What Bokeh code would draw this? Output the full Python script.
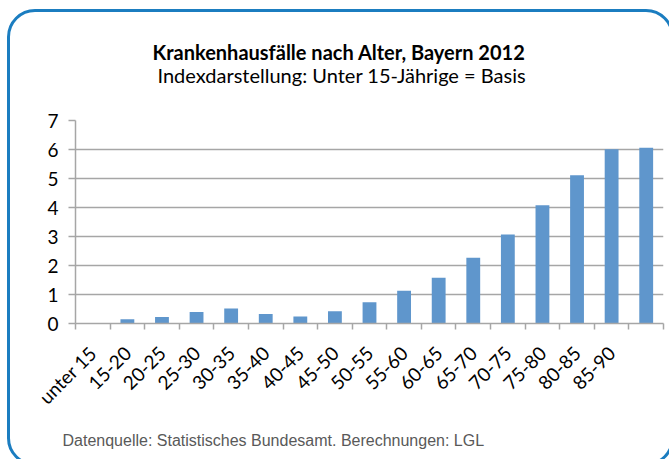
import math
from bokeh.plotting import figure
from bokeh.models import (Range1d, FixedTicker, ColumnDataSource, Title,
                          InlineStyleSheet)
from bokeh.embed import file_html
from bokeh.resources import INLINE

# ---- data ----
categories = ["unter 15", "15-20", "20-25", "25-30", "30-35", "35-40", "40-45",
              "45-50", "50-55", "55-60", "60-65", "65-70", "70-75", "75-80",
              "80-85", "85-90", ""]
values = [0.0, 0.15, 0.22, 0.40, 0.52, 0.33, 0.24, 0.42, 0.73, 1.13, 1.58,
          2.27, 3.07, 4.08, 5.11, 6.01, 6.06]
y_ticks = [0, 1, 2, 3, 4, 5, 6, 7]

title_text = "Krankenhausfälle nach Alter, Bayern 2012"
subtitle_text = "Indexdarstellung: Unter 15-Jährige = Basis"
source_text = "Datenquelle: Statistisches Bundesamt. Berechnungen: LGL"

xs = list(range(len(categories)))
src = ColumnDataSource(dict(x=xs, top=values))

W, H = 669, 459
FL, FR, FT, FB = 75, 663, 120, 323  # frame in canvas px

p = figure(width=W, height=H, output_backend="svg", toolbar_location=None,
           x_range=Range1d(-0.5, len(categories) - 0.5), y_range=Range1d(0, 7),
           min_border_left=FL, min_border_right=W - FR,
           min_border_top=FT, min_border_bottom=H - FB)
p.outline_line_color = None
p.background_fill_color = "white"
p.border_fill_color = "white"

p.vbar(x="x", top="top", width=0.4, source=src, fill_color="#5F96CC",
       line_color=None)

# y axis
p.yaxis.ticker = FixedTicker(ticks=y_ticks)
p.yaxis.axis_line_color = "#A6A6A6"
p.yaxis.axis_line_width = 1.5
p.yaxis.major_tick_line_color = "#A6A6A6"
p.yaxis.major_tick_line_width = 1.5
p.yaxis.major_tick_out = 7
p.yaxis.major_tick_in = 0
p.yaxis.minor_tick_line_color = None
p.yaxis.major_label_standoff = 10
p.yaxis.major_label_text_font = "Lato"
p.yaxis.major_label_text_font_size = "19px"
p.yaxis.major_label_text_color = "#000000"

p.ygrid.grid_line_color = "#A6A6A6"
p.ygrid.grid_line_width = 1.5
p.xgrid.grid_line_color = None

# x axis
p.xaxis.ticker = FixedTicker(ticks=xs, minor_ticks=[i - 0.5 for i in range(len(categories) + 1)])
p.xaxis.major_label_overrides = {i: c for i, c in enumerate(categories)}
p.xaxis.major_label_orientation = math.pi / 4
p.xaxis.axis_line_color = "#A6A6A6"
p.xaxis.axis_line_width = 1.5
p.xaxis.major_tick_line_color = None
p.xaxis.major_tick_out = 0
p.xaxis.major_tick_in = 0
p.xaxis.minor_tick_line_color = "#A6A6A6"
p.xaxis.minor_tick_line_width = 1.5
p.xaxis.minor_tick_out = 6
p.xaxis.minor_tick_in = 0
p.xaxis.major_label_standoff = 20
p.xaxis.major_label_text_font = "Lato"
p.xaxis.major_label_text_font_size = "19px"
p.xaxis.major_label_text_color = "#000000"

# titles (stacked outward from the frame)
p.add_layout(Title(text=subtitle_text, align="left", offset=82, text_font="Lato",
                   text_font_style="normal", text_font_size="20px",
                   text_color="#000000", standoff=68), "above")
p.add_layout(Title(text=title_text, align="left", offset=77, text_font="Lato",
                   text_font_style="bold", text_font_size="20px",
                   text_color="#000000", standoff=-74), "above")
p.add_layout(Title(text=source_text, align="left", offset=-13,
                   text_font="Liberation Sans",
                   text_font_style="normal", text_font_size="16px",
                   text_color="#595959", standoff=21), "below")

# rounded frame around the whole graphic (partly cut by the window edge)
p.stylesheets = [InlineStyleSheet(css="""
:host { position: relative; overflow: hidden; }
:host::after {
  content: ""; position: absolute; left: 7px; top: 9px;
  width: 667px; height: 457px; box-sizing: border-box;
  border: 3px solid #1B7DC0; border-radius: 28px;
  pointer-events: none; z-index: 10;
}
""")]

open("out.html", "w").write(file_html(p, INLINE))
